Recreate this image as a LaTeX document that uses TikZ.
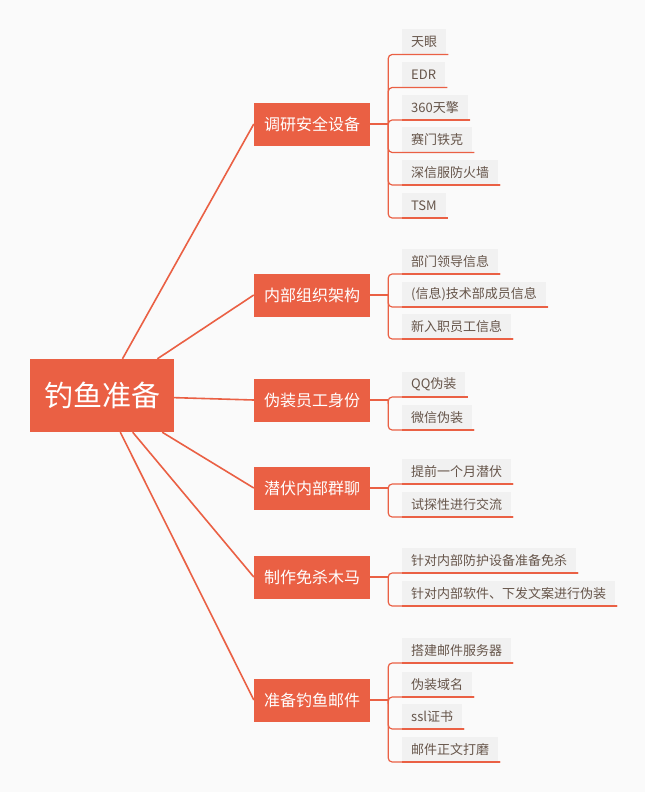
\documentclass[tikz,border=0pt]{standalone}
\usepackage{fontspec}
\setmainfont{Noto Sans CJK SC}
\definecolor{mainor}{HTML}{EA6044}
\definecolor{bgc}{HTML}{FAFAFA}
\definecolor{leafbg}{HTML}{F1F1F1}
\definecolor{leaftxt}{HTML}{66554A}
\tikzset{
  rootbox/.style={fill=mainor, text=white, minimum width=144pt, minimum height=73pt, inner sep=0pt, font=\fontsize{29}{32}\selectfont},
  branchbox/.style={fill=mainor, text=white, minimum width=116pt, minimum height=43pt, inner sep=0pt, font=\fontsize{16}{19}\selectfont},
  leafbox/.style={anchor=south west, fill=leafbg, text=leaftxt, minimum height=25pt, inner xsep=9pt, inner ysep=0pt, font=\fontsize{13}{15}\selectfont},
  rootline/.style={draw=mainor, line width=1.6pt},
  conn/.style={draw=mainor, line width=1.2pt, rounded corners=4pt},
  uline/.style={draw=mainor, line width=1.8pt}
}
\begin{document}
\begin{tikzpicture}[x=1pt,y=-1pt]
\fill[bgc] (0,0) rectangle (645,792);
\useasboundingbox (0,0) rectangle (645,792);

% root and branches
\node[rootbox] (root) at (102,395.5) {钓鱼准备};
\node[branchbox] (b1) at (312,124) {调研安全设备};
\node[branchbox] (b2) at (312,295) {内部组织架构};
\node[branchbox] (b3) at (312,400) {伪装员工身份};
\node[branchbox] (b4) at (312,488) {潜伏内部群聊};
\node[branchbox] (b5) at (312,577) {制作免杀木马};
\node[branchbox] (b6) at (312,700) {准备钓鱼邮件};

% leaves
\node[leafbox] (l11) at (402,54.5) {天眼};
\node[leafbox] (l12) at (402,87.5) {EDR};
\node[leafbox] (l13) at (402,120) {360天擎};
\node[leafbox] (l14) at (402,152.5) {赛门铁克};
\node[leafbox] (l15) at (402,185) {深信服防火墙};
\node[leafbox] (l16) at (402,218) {TSM};

\node[leafbox] (l21) at (402,274) {部门领导信息};
\node[leafbox] (l22) at (402,307) {(信息)技术部成员信息};
\node[leafbox] (l23) at (402,339) {新入职员工信息};

\node[leafbox] (l31) at (402,397) {QQ伪装};
\node[leafbox] (l32) at (402,430) {微信伪装};

\node[leafbox] (l41) at (402,484) {提前一个月潜伏};
\node[leafbox] (l42) at (402,517) {试探性进行交流};

\node[leafbox] (l51) at (402,573) {针对内部防护设备准备免杀};
\node[leafbox] (l52) at (402,606) {针对内部软件、下发文案进行伪装};

\node[leafbox] (l61) at (402,663) {搭建邮件服务器};
\node[leafbox] (l62) at (402,697) {伪装域名};
\node[leafbox] (l63) at (402,729) {ssl证书};
\node[leafbox] (l64) at (402,762) {邮件正文打磨};

% root connectors
\foreach \b in {b1,b2,b3,b4,b5,b6}{
  \draw[rootline] (root) -- (\b.west);
}

% junctions
\foreach \b in {1,...,6}{
  \coordinate (j\b) at ([xshift=18pt]b\b.east);
  \draw[conn] (b\b.east) -- (j\b);
}
\foreach \l in {11,12,13,14,15,16}{\draw[conn] (j1) |- ([xshift=2pt]l\l.south east);}
\foreach \l in {21,22,23}{\draw[conn] (j2) |- ([xshift=2pt]l\l.south east);}
\foreach \l in {31,32}{\draw[conn] (j3) |- ([xshift=2pt]l\l.south east);}
\foreach \l in {41,42}{\draw[conn] (j4) |- ([xshift=2pt]l\l.south east);}
\foreach \l in {51,52}{\draw[conn] (j5) |- ([xshift=2pt]l\l.south east);}
\foreach \l in {61,62,63,64}{\draw[conn] (j6) |- ([xshift=2pt]l\l.south east);}
% underlines
\foreach \l in {11,12,13,14,15,16,21,22,23,31,32,41,42,51,52,61,62,63,64}{
  \draw[uline] (l\l.south west) -- ([xshift=2pt]l\l.south east);
}
\end{tikzpicture}
\end{document}
